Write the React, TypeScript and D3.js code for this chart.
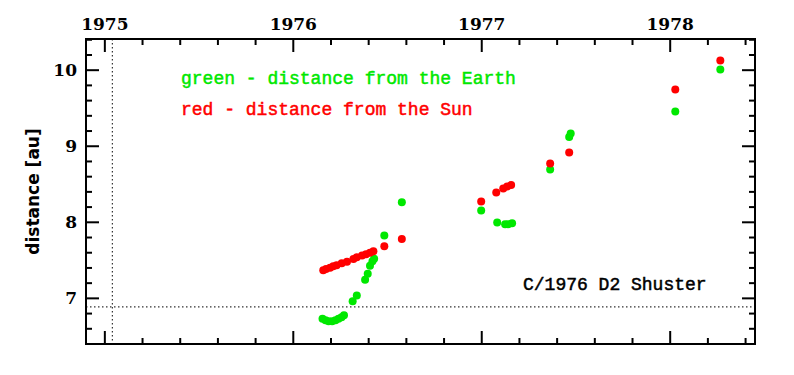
import React, { useEffect, useRef } from "react";
import * as d3 from "d3";

// Distance from the Sun (red)
const sunYears = [1976.159, 1976.174, 1976.195, 1976.212, 1976.23, 1976.257, 1976.285, 1976.319, 1976.337, 1976.365, 1976.386, 1976.407, 1976.425, 1976.483, 1976.576, 1976.997, 1977.077, 1977.114, 1977.135, 1977.156, 1977.363, 1977.464, 1978.027, 1978.266];
const sunDist = [7.368, 7.387, 7.404, 7.421, 7.434, 7.461, 7.483, 7.518, 7.539, 7.562, 7.579, 7.601, 7.618, 7.684, 7.782, 8.272, 8.391, 8.443, 8.47, 8.49, 8.772, 8.917, 9.746, 10.128];

// Distance from the Earth (green)
const earthYears = [1976.155, 1976.171, 1976.187, 1976.206, 1976.224, 1976.24, 1976.256, 1976.269, 1976.315, 1976.337, 1976.381, 1976.395, 1976.407, 1976.42, 1976.429, 1976.483, 1976.576, 1976.997, 1977.082, 1977.124, 1977.14, 1977.161, 1977.363, 1977.464, 1977.472, 1978.027, 1978.266];
const earthDist = [6.733, 6.713, 6.7, 6.7, 6.713, 6.733, 6.753, 6.779, 6.961, 7.039, 7.246, 7.325, 7.43, 7.487, 7.522, 7.825, 8.263, 8.154, 7.996, 7.976, 7.976, 7.989, 8.693, 9.121, 9.167, 9.457, 10.009];

const yearLabels = [1975, 1976, 1977, 1978];
const yTickLabels = [7, 8, 9, 10];
const perihelionYear = 1975.04;
const perihelionQ = 6.887;

const W = 794, H = 375;
const L = 86, R = 755, T = 39, B = 344;

export default function App() {
  const ref = useRef<SVGSVGElement>(null);
  useEffect(() => {
    const svg = d3.select(ref.current);
    svg.selectAll("*").remove();
    const x = d3.scaleLinear().domain([1974.9, 1978.45]).range([L, R]);
    const y = d3.scaleLinear().domain([6.4, 10.41]).range([B, T]);

    const g = svg.append("g");

    // dotted reference lines
    g.append("line").attr("x1", x(perihelionYear)).attr("x2", x(perihelionYear))
      .attr("y1", T).attr("y2", B).attr("stroke", "#333").attr("stroke-width", 1.2)
      .attr("stroke-dasharray", "1.5,2.5");
    g.append("line").attr("x1", L).attr("x2", R)
      .attr("y1", y(perihelionQ)).attr("y2", y(perihelionQ)).attr("stroke", "#333")
      .attr("stroke-width", 1.2).attr("stroke-dasharray", "1.5,2.5");

    // x ticks (top & bottom)
    const xMinor = d3.range(0, 18).map((i) => 1975 + i * 0.2).filter((v) => v <= 1978.45);
    xMinor.forEach((v) => {
      const major = Math.abs(v - Math.round(v)) < 1e-6;
      const len = major ? 13 : 6;
      const px = x(v);
      g.append("line").attr("x1", px).attr("x2", px).attr("y1", T).attr("y2", T + len)
        .attr("stroke", "#000").attr("stroke-width", 2);
      g.append("line").attr("x1", px).attr("x2", px).attr("y1", B).attr("y2", B - len)
        .attr("stroke", "#000").attr("stroke-width", 2);
    });
    yearLabels.forEach((v) => {
      g.append("text").attr("x", x(v)).attr("y", 30).attr("text-anchor", "middle")
        .attr("font-family", "DejaVu Serif").attr("font-weight", "bold")
        .attr("font-size", 17).text(String(v));
    });

    // y ticks (left & right)
    const yMinor = d3.range(0, 21).map((i) => 6.4 + i * 0.2).filter((v) => v <= 10.41);
    yMinor.forEach((v) => {
      const major = Math.abs(v - Math.round(v)) < 1e-6;
      const len = major ? 13 : 6;
      const py = y(v);
      g.append("line").attr("x1", L).attr("x2", L + len).attr("y1", py).attr("y2", py)
        .attr("stroke", "#000").attr("stroke-width", 2);
      g.append("line").attr("x1", R).attr("x2", R - len).attr("y1", py).attr("y2", py)
        .attr("stroke", "#000").attr("stroke-width", 2);
    });
    yTickLabels.forEach((v) => {
      g.append("text").attr("x", 77).attr("y", y(v)).attr("dy", "0.36em")
        .attr("text-anchor", "end").attr("font-family", "DejaVu Serif")
        .attr("font-weight", "bold").attr("font-size", 17).text(String(v));
    });

    // frame
    g.append("rect").attr("x", L).attr("y", T).attr("width", R - L).attr("height", B - T)
      .attr("fill", "none").attr("stroke", "#000").attr("stroke-width", 2);

    // y axis title
    g.append("text").attr("transform", `translate(39,${(T + B) / 2}) rotate(-90)`)
      .attr("text-anchor", "middle").attr("font-family", "DejaVu Sans")
      .attr("font-weight", "bold").attr("font-size", 17).text("distance [au]");

    // points
    const sun = sunYears.map((t, i) => [t, sunDist[i]]);
    const earth = earthYears.map((t, i) => [t, earthDist[i]]);
    g.append("g").selectAll("circle").data(earth).join("circle")
      .attr("cx", (d) => x(d[0])).attr("cy", (d) => y(d[1])).attr("r", 4)
      .attr("fill", "#00e800");
    g.append("g").selectAll("circle").data(sun).join("circle")
      .attr("cx", (d) => x(d[0])).attr("cy", (d) => y(d[1])).attr("r", 4)
      .attr("fill", "#ff0000");

    // legend texts
    const mono = (sel: any, fill: string) =>
      sel.attr("font-family", "Liberation Mono").attr("font-size", 18)
        .attr("fill", fill).attr("stroke", fill).attr("stroke-width", 0.5);
    mono(g.append("text").attr("x", 181).attr("y", 84), "#00e800").text("green - distance from the Earth");
    mono(g.append("text").attr("x", 181).attr("y", 115), "#ff0000").text("red - distance from the Sun");
    mono(g.append("text").attr("x", 523).attr("y", 290), "#000").text("C/1976 D2 Shuster");
  }, []);
  return (
    <svg ref={ref} width={W} height={H}
      style={{ position: "absolute", left: 0, top: 0, background: "#fff" }} />
  );
}
